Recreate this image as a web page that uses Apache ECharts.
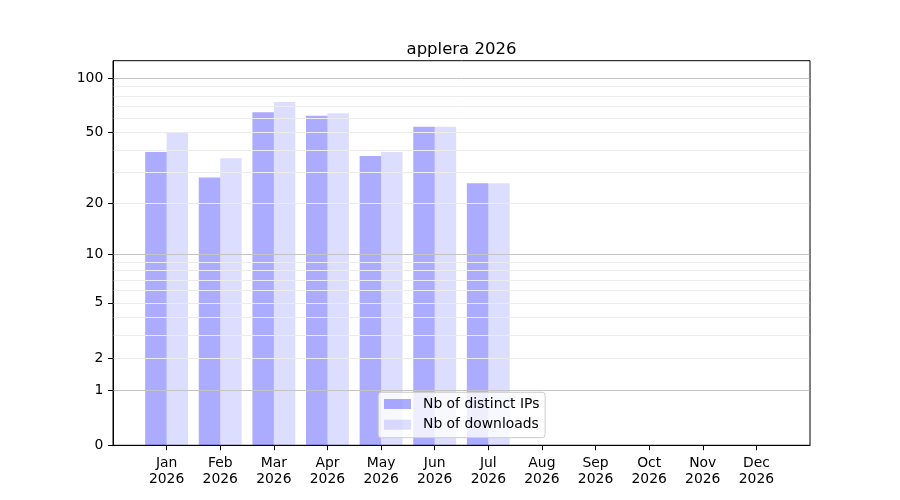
<!DOCTYPE html>
<html>
<head>
<meta charset="utf-8">
<script src="https://cdn.jsdelivr.net/npm/echarts@6/dist/echarts.min.js"></script>
<style>html,body{margin:0;padding:0;background:#fff;}#c{width:900px;height:500px;}</style>
</head>
<body>
<div id="c"></div>
<script>
const titleText = 'applera 2026';
const months = ['Jan','Feb','Mar','Apr','May','Jun','Jul','Aug','Sep','Oct','Nov','Dec'];
const yearLabel = '2026';
const monthPositions = [1,2,3,4,5,6,7,8,9,10,11,12];
const ipsValues = [39, 28, 65, 62, 37, 54, 26];
const downloadsValues = [50, 36, 74, 64, 39, 54, 26];
const yTickValues = [0, 1, 2, 5, 10, 20, 50, 100];
const majorGridValues = [1, 10, 100];
const minorGridValues = [2,3,4,5,6,7,8,9,20,30,40,50,60,70,80,90];
const seriesNames = ['Nb of distinct IPs', 'Nb of downloads'];

const tf = v => Math.log10(1 + v);
const FONT = 'DejaVu Sans';
const X_MIN = 0, X_MAX = 13;

const chart = echarts.init(document.getElementById('c'), null, {renderer: 'canvas'});
const gridLines = [];
const seg = (v, color) => [
  {coord: [X_MIN + 0.012, tf(v)], lineStyle: {color: color, width: 1, type: 'solid'}},
  {coord: [X_MAX - 0.012, tf(v)]}
];
minorGridValues.forEach(v => gridLines.push(seg(v, '#ececec')));
majorGridValues.forEach(v => gridLines.push(seg(v, '#c4c4c4')));

chart.setOption({
  animation: false,
  backgroundColor: '#ffffff',
  textStyle: {fontFamily: FONT},
  title: {
    text: titleText, left: 456.5, top: 36, textAlign: 'center',
    textStyle: {fontFamily: FONT, fontSize: 16.5, fontWeight: 'normal', color: '#000'}
  },
  grid: {left: 113, right: 90, top: 60.7, bottom: 54.7, show: true, borderColor: '#000', borderWidth: 1, backgroundColor: 'transparent'},
  legend: {
    orient: 'vertical', left: 378.3, top: 392.3,
    padding: [4.7, 5.7, 6, 5.7],
    itemWidth: 27, itemHeight: 10, itemGap: 6.7,
    icon: 'rect',
    backgroundColor: 'rgba(255,255,255,0.8)', borderColor: '#cccccc', borderWidth: 1, borderRadius: 3,
    textStyle: {fontFamily: FONT, fontSize: 13.9, color: '#000', lineHeight: 14, padding: [0, 0, 0, 7]},
    data: seriesNames
  },
  xAxis: {
    type: 'value', min: X_MIN, max: X_MAX,
    axisLine: {show: true, lineStyle: {color: '#000', width: 1}},
    axisTick: {show: true, inside: false, length: 4.9, lineStyle: {color: '#000', width: 1}, customValues: monthPositions},
    axisLabel: {
      show: true, margin: 9.7, color: '#000', fontFamily: FONT, fontSize: 13.9, lineHeight: 16,
      customValues: monthPositions,
      formatter: v => months[Math.round(v) - 1] + '\n' + yearLabel
    },
    splitLine: {show: false}
  },
  yAxis: {
    type: 'value', min: 0, max: 2.1005,
    axisLine: {show: true, lineStyle: {color: '#000', width: 1}},
    axisTick: {show: true, inside: false, length: 4.9, lineStyle: {color: '#000', width: 1}, customValues: yTickValues.map(tf)},
    axisLabel: {
      show: true, margin: 9.7, color: '#000', fontFamily: FONT, fontSize: 13.9,
      customValues: yTickValues.map(tf),
      formatter: v => String(Math.round(Math.pow(10, v) - 1))
    },
    splitLine: {show: false}
  },
  series: [
    {
      type: 'scatter', data: [], z: 1, silent: true,
      markLine: {silent: true, symbol: ['none', 'none'], label: {show: false}, animation: false, data: gridLines}
    },
    {
      name: seriesNames[0], type: 'bar', z: 2,
      barWidth: 21.45, barGap: '0%',
      itemStyle: {color: 'rgba(0,0,255,0.33)'},
      data: ipsValues.map((v, i) => [monthPositions[i], tf(v)])
    },
    {
      name: seriesNames[1], type: 'bar', z: 2,
      barWidth: 21.45, barGap: '0%',
      itemStyle: {color: 'rgba(0,0,255,0.133)'},
      data: downloadsValues.map((v, i) => [monthPositions[i], tf(v)])
    }
  ]
});
</script>
</body>
</html>
